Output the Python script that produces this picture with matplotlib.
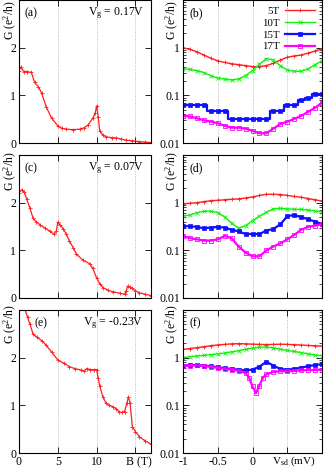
import matplotlib
matplotlib.use('Agg')
import matplotlib.pyplot as plt
from matplotlib.ticker import LogLocator, NullFormatter
import matplotlib.transforms as mtransforms

plt.rcParams['font.family'] = ['Liberation Serif', 'DejaVu Serif']
plt.rcParams['mathtext.fontset'] = 'custom'
plt.rcParams['mathtext.rm'] = 'Liberation Serif'
plt.rcParams['mathtext.it'] = 'Liberation Serif:italic'
plt.rcParams['font.size'] = 8.5

# ---- left column: G vs B ----
B_a = [0, 0.26, 0.6, 1.0, 1.6, 2.0, 2.5, 2.9, 3.5, 4.2, 5.0, 5.5, 6.1, 7.0, 7.8, 8.4,
       8.9, 9.5, 9.8, 10.0, 10.2, 10.4, 10.8, 11.2, 12.0, 12.5, 13.2, 13.8, 14.5, 15.4, 16.2, 17.0]
G_a = [1.52, 1.60, 1.50, 1.50, 1.48, 1.27, 1.18, 1.05, 0.76, 0.52, 0.36, 0.31, 0.29, 0.28, 0.29, 0.32,
       0.38, 0.52, 0.62, 0.78, 0.55, 0.25, 0.17, 0.13, 0.11, 0.11, 0.08, 0.06, 0.05, 0.03, 0.02, 0.01]

B_c = [0, 0.35, 0.7, 1.0, 1.4, 1.8, 2.2, 2.7, 3.3, 4.0, 4.5, 4.8, 5.0, 5.3, 5.7, 6.1, 6.5, 7.0,
       7.4, 8.2, 9.1, 9.5, 10.0, 10.4, 10.8, 11.5, 12.1, 13.0, 13.6, 13.8, 14.0, 14.3, 14.6, 15.0,
       15.5, 16.2, 17.0]
G_c = [2.21, 2.27, 2.22, 2.07, 1.89, 1.68, 1.60, 1.54, 1.47, 1.40, 1.34, 1.40, 1.59, 1.53, 1.45, 1.34,
       1.19, 1.05, 0.92, 0.80, 0.72, 0.62, 0.42, 0.30, 0.22, 0.16, 0.13, 0.10, 0.08, 0.15, 0.25, 0.23,
       0.20, 0.15, 0.11, 0.08, 0.05]

B_e = [0, 0.5, 0.8, 1.1, 1.4, 1.8, 2.3, 3.0, 3.5, 4.2, 5.0, 5.8, 6.5, 7.2, 8.0, 8.4, 8.7, 9.2,
       9.6, 10.0, 10.2, 10.4, 10.8, 11.2, 11.6, 12.1, 12.5, 12.9, 13.3, 13.6, 13.9, 14.1, 14.3,
       14.6, 15.0, 15.5, 16.2, 17.0]
G_e = [3.6, 3.2, 3.0, 2.85, 2.71, 2.50, 2.43, 2.35, 2.26, 2.12, 1.95, 1.88, 1.81, 1.77, 1.74, 1.72,
       1.77, 1.75, 1.75, 1.75, 1.57, 1.40, 1.18, 1.05, 1.00, 0.97, 0.93, 0.86, 0.85, 0.87, 1.05,
       1.18, 1.05, 0.55, 0.45, 0.34, 0.26, 0.19]

vg_labels = ['0.17V', '0.07V', '-0.23V']

# ---- right column: G vs Vsd ----
V = [-1.0, -0.9, -0.8, -0.7, -0.6, -0.5, -0.4, -0.3, -0.2, -0.1, 0.0,
     0.1, 0.2, 0.3, 0.4, 0.5, 0.6, 0.7, 0.8, 0.9, 1.0]

b_5T = [1.0, 0.92, 0.82, 0.70, 0.60, 0.53, 0.49, 0.46, 0.44, 0.42, 0.40,
        0.40, 0.42, 0.47, 0.55, 0.63, 0.67, 0.70, 0.77, 0.85, 0.95]
b_10T = [0.36, 0.35, 0.33, 0.30, 0.26, 0.23, 0.22, 0.21, 0.22, 0.26, 0.33,
         0.45, 0.59, 0.55, 0.42, 0.34, 0.32, 0.32, 0.36, 0.44, 0.53]
b_15T = [0.062, 0.062, 0.062, 0.062, 0.047, 0.047, 0.047, 0.032, 0.032, 0.032, 0.032,
         0.032, 0.032, 0.047, 0.047, 0.062, 0.062, 0.078, 0.09, 0.105, 0.105]
b_17T = [0.037, 0.036, 0.033, 0.030, 0.028, 0.026, 0.023, 0.021, 0.021, 0.020, 0.018,
         0.016, 0.016, 0.020, 0.025, 0.028, 0.032, 0.037, 0.045, 0.055, 0.07]

d_5T = [0.95, 0.97, 1.0, 1.05, 1.1, 1.12, 1.15, 1.18, 1.2, 1.25, 1.32,
        1.42, 1.5, 1.5, 1.48, 1.42, 1.35, 1.3, 1.22, 1.15, 1.08]
d_10T = [0.52, 0.55, 0.62, 0.66, 0.66, 0.62, 0.50, 0.37, 0.29, 0.33, 0.42,
         0.52, 0.63, 0.74, 0.76, 0.74, 0.73, 0.72, 0.70, 0.67, 0.64]
d_15T = [0.32, 0.32, 0.31, 0.29, 0.30, 0.31, 0.30, 0.27, 0.25, 0.22, 0.22,
         0.22, 0.26, 0.28, 0.35, 0.52, 0.55, 0.50, 0.45, 0.40, 0.36]
d_17T = [0.20, 0.18, 0.17, 0.16, 0.16, 0.17, 0.20, 0.18, 0.12, 0.09, 0.075,
         0.075, 0.10, 0.12, 0.14, 0.17, 0.21, 0.27, 0.31, 0.33, 0.35]

f_5T = [1.5, 1.55, 1.62, 1.7, 1.78, 1.85, 1.9, 1.95, 1.97, 1.95, 1.92,
        1.9, 1.88, 1.9, 1.92, 1.9, 1.87, 1.84, 1.8, 1.77, 1.75]
f_10T = [1.0, 1.05, 1.08, 1.12, 1.15, 1.2, 1.25, 1.32, 1.4, 1.5, 1.58,
         1.65, 1.68, 1.6, 1.5, 1.42, 1.35, 1.28, 1.2, 1.13, 1.1]
f_15T = [0.67, 0.70, 0.70, 0.68, 0.66, 0.63, 0.60, 0.58, 0.56, 0.54, 0.56,
         0.65, 0.82, 0.68, 0.58, 0.56, 0.58, 0.62, 0.66, 0.70, 0.73]
V_f17 = [-1.0, -0.9, -0.8, -0.7, -0.6, -0.5, -0.4, -0.3, -0.2, -0.1, -0.05, 0.0, 0.05,
         0.1, 0.15, 0.2, 0.3, 0.4, 0.5, 0.6, 0.7, 0.8, 0.9, 1.0]
f_17T = [0.66, 0.68, 0.69, 0.67, 0.64, 0.61, 0.58, 0.56, 0.53, 0.48, 0.38, 0.25, 0.18,
         0.26, 0.38, 0.45, 0.50, 0.52, 0.52, 0.53, 0.54, 0.55, 0.55, 0.56]

fields = ['5T', '10T', '15T', '17T']
colors = ['#ff2020', '#10f010', '#1010ff', '#ff00ff']

W, H = 324.0, 468.0
fig = plt.figure(figsize=(W / 100, H / 100), dpi=100)

rows = [(0, 143), (155, 298), (310, 453)]
left_col = (19, 151)
right_col = (183, 322)


def rect(col, row):
    x0, x1 = col
    t, b = row
    return [x0 / W, 1 - b / H, (x1 - x0) / W, (b - t) / H]


def style(ax):
    ax.tick_params(direction='in', top=True, right=True, length=4, width=0.6,
                   labelsize=8.5, pad=2)
    ax.tick_params(which='minor', direction='in', top=True, right=True, length=2, width=0.5)
    for s in ax.spines.values():
        s.set_linewidth(0.8)
    ax.grid(axis='x', color='#aaaaaa', ls=':', lw=0.6)


left_data = [(B_a, G_a), (B_c, G_c), (B_e, G_e)]
left_tags = ['(a)', '(c)', '(e)']
tag_x = [0.045, 0.045, 0.12]
for i, (row, (bb, gg)) in enumerate(zip(rows, left_data)):
    ax = fig.add_axes(rect(left_col, row))
    ax.plot(bb, gg, color=colors[0], lw=0.9, marker='+', ms=3, mew=0.6)
    ax.set_xlim(0, 17)
    ax.set_ylim(0, 3)
    ax.set_xticks([0, 5, 10, 15])
    ax.set_yticks([0, 1, 2, 3])
    ax.set_yticklabels(['0', '1', '2', ''])
    if i < 2:
        ax.set_xticklabels([])
    else:
        ax.set_xticklabels(['0', '5', '10', ''])
        tr = mtransforms.blended_transform_factory(ax.transData, ax.transAxes)
        ax.text(15.5, -0.025, 'B (T)', transform=tr, ha='center', va='top', fontsize=8.5)
    style(ax)
    ax.text(tag_x[i], 0.905, left_tags[i], transform=ax.transAxes, ha='left', va='center',
            fontsize=8.5)
    ax.text(0.94, 0.905, r'V$_\mathrm{g}$ = ' + vg_labels[i], transform=ax.transAxes,
            ha='right', va='center', fontsize=8.5)

right_data = [
    [(V, b_5T), (V, b_10T), (V, b_15T), (V, b_17T)],
    [(V, d_5T), (V, d_10T), (V, d_15T), (V, d_17T)],
    [(V, f_5T), (V, f_10T), (V, f_15T), (V_f17, f_17T)],
]
right_tags = ['(b)', '(d)', '(f)']
marks = [dict(marker='+', ms=3, mew=0.6),
         dict(marker='x', ms=2.5, mew=0.6),
         dict(marker='s', ms=2.2, mew=0.5),
         dict(marker='s', ms=3, mew=0.6, mfc='none')]
for i, (row, sets) in enumerate(zip(rows, right_data)):
    ax = fig.add_axes(rect(right_col, row))
    for j, (vv, gg) in enumerate(sets):
        ds = 'steps-mid' if (i == 0 and j == 2) else 'default'
        ax.plot(vv, gg, color=colors[j], lw=1.0 if j < 2 else 1.6, drawstyle=ds,
                label=fields[j], **marks[j])
    ax.set_yscale('log')
    ax.set_xlim(-1, 1)
    ax.set_ylim(0.01, 10)
    ax.set_yticks([0.01, 0.1, 1, 10])
    ax.set_yticklabels(['0.01', '0.1', '1', ''])
    ax.yaxis.set_minor_locator(LogLocator(base=10, subs=range(2, 10)))
    ax.yaxis.set_minor_formatter(NullFormatter())
    ax.set_xticks([-1, -0.5, 0, 0.5, 1])
    if i < 2:
        ax.set_xticklabels([])
    else:
        ax.set_xticklabels(['-1', '-0.5', '0', '', ''])
        tr = mtransforms.blended_transform_factory(ax.transData, ax.transAxes)
        ax.text(0.6, -0.012, r'V$_\mathrm{sd}$ (mV)', transform=tr, ha='center', va='top',
                fontsize=8)
    style(ax)
    ax.text(0.05, 0.905, right_tags[i], transform=ax.transAxes, ha='left', va='center',
            fontsize=8.5)
    if i == 0:
        ax.legend(loc='upper right', markerfirst=False, frameon=False, fontsize=7.8,
                  handlelength=2.8, labelspacing=0.2, borderaxespad=0.2, handletextpad=0.5)

# y labels near the top of each axis
label_y = [20, 171, 324]
for yc in label_y:
    fig.text(10 / W, 1 - yc / H, r'G (e$^2$/h)', rotation=90, ha='center', va='center',
             fontsize=8.5)
    fig.text(172 / W, 1 - yc / H, r'G (e$^2$/h)', rotation=90, ha='center', va='center',
             fontsize=8.5)

fig.savefig('out.png', dpi=100)
